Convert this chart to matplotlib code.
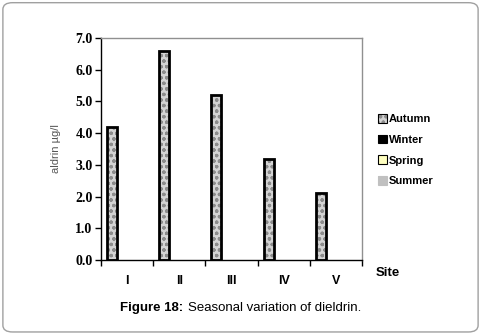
import numpy as np
import matplotlib.pyplot as plt
from matplotlib.patches import FancyBboxPatch, Patch
from matplotlib.legend_handler import HandlerTuple

sites = ["I", "II", "III", "IV", "V"]
seasons = ["Autumn", "Winter", "Spring", "Summer"]
autumn = [4.2, 6.6, 5.2, 3.2, 2.1]
winter = [0, 0, 0, 0, 0]
spring = [0, 0, 0, 0, 0]
summer = [0, 0, 0, 0, 0]
yticks = np.arange(0, 7.01, 1.0)

plt.rcParams["hatch.linewidth"] = 0.9

fig = plt.figure(figsize=(4.81, 3.36), dpi=100)
fig.patches.append(FancyBboxPatch((0.006, 0.012), 0.988, 0.98, boxstyle="round,pad=0,rounding_size=0.02",
                                  transform=fig.transFigure, fill=False, edgecolor="#a0a0a0", lw=1.0))
ax = fig.add_axes([0.21, 0.2262, 0.5426, 0.6607])

x = np.arange(len(sites))
w = 0.19
fills = ["#d4d4d4", "black", "#ffffc0", "#c0c0c0"]
hatches = ["ooo", None, None, None]
for i, vals in enumerate([autumn, winter, spring, summer]):
    if not any(v > 0 for v in vals):
        continue
    pos = x - 0.5 + 0.115 + w / 2 + i * w
    # texture first, outline on top
    ax.bar(pos, vals, w, facecolor=fills[i], edgecolor="#8c8c8c", lw=0, hatch=hatches[i])
    ax.bar(pos, vals, w, facecolor="none", edgecolor="black", lw=2.0)

ax.set_xlim(-0.5, len(sites) - 0.5)
ax.set_ylim(0, 7)
ax.set_yticks(yticks)
ax.set_yticklabels([f"{v:.1f}" for v in yticks], fontfamily="Liberation Serif",
                   fontweight="bold", fontsize=10)
ax.set_xticks(x)
ax.set_xticklabels(sites, fontfamily="Liberation Sans", fontweight="bold", fontsize=9)
ax.tick_params(axis="x", length=0, pad=11)
ax.set_xticks(np.arange(-0.5, len(sites)), minor=True)
ax.tick_params(axis="x", which="minor", length=4, direction="out", width=1)
ax.tick_params(axis="y", length=4, direction="out", width=1, pad=2)
for s in ["top", "right"]:
    ax.spines[s].set_color("#909090")
    ax.spines[s].set_linewidth(1.0)
for s in ["left", "bottom"]:
    ax.spines[s].set_linewidth(1.0)

ax.set_ylabel("aldrin µg/l", fontfamily="Liberation Sans", fontsize=8, color="#555555", labelpad=10)
fig.text(0.78, 0.18, "Site", fontfamily="Liberation Sans", fontweight="bold", fontsize=9.5)

handles = []
for i in range(4):
    edge = "black" if i < 3 else "#c0c0c0"
    handles.append((Patch(facecolor=fills[i], edgecolor="#8c8c8c", hatch=hatches[i], lw=0),
                    Patch(facecolor="none", edgecolor=edge, lw=0.8)))
leg = fig.legend(handles, seasons, loc="upper left", bbox_to_anchor=(0.765, 0.69),
                 frameon=False, handlelength=0.8, handleheight=0.8, handletextpad=0.15,
                 labelspacing=0.95, prop=dict(family="Liberation Sans", weight="bold", size=8),
                 handler_map={tuple: HandlerTuple(ndivide=1, pad=0)})

t1 = fig.text(0.25, 0.073, "Figure 18:", fontfamily="Liberation Sans", fontweight="bold", fontsize=9.5)
ax.annotate("Seasonal variation of dieldrin.", xy=(1, 0), xycoords=t1, xytext=(3, 0),
            textcoords="offset points", fontfamily="Liberation Sans", fontsize=9.5,
            va="bottom", annotation_clip=False)

fig.savefig("out.png", dpi=100)
